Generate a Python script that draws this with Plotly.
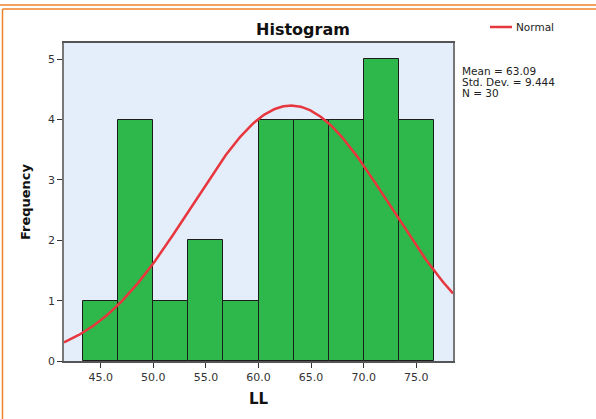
import numpy as np
import plotly.graph_objects as go

# ---- data ----
counts = [1, 4, 1, 2, 1, 4, 4, 4, 5, 4]
bin_start = 43.3
bin_width = 3.34
mean_val = 63.09
std_val = 9.444
n_val = 30
x_ticks = [45.0, 50.0, 55.0, 60.0, 65.0, 70.0, 75.0]
y_ticks = [0, 1, 2, 3, 4, 5]

centers = [bin_start + bin_width * (i + 0.5) for i in range(len(counts))]

x_range = [41.5, 78.5]
xs = np.linspace(x_range[0], x_range[1], 300)
ys = n_val * bin_width * np.exp(-0.5 * ((xs - mean_val) / std_val) ** 2) / (std_val * np.sqrt(2 * np.pi))

W, H = 596, 419
L, R, T, B = 64, 453, 43, 361

def px(x):
    return (x - L) / (R - L)

def py(y):
    return (B - y) / (B - T)

fig = go.Figure()
fig.add_trace(go.Bar(
    x=centers, y=counts, width=bin_width,
    marker=dict(color="#2eb84b", line=dict(color="#1c1c1c", width=1)),
    showlegend=False, hoverinfo="skip"))
fig.add_trace(go.Scatter(
    x=xs, y=ys, mode="lines",
    line=dict(color="#e8363e", width=2.5),
    showlegend=False, hoverinfo="skip"))

font_family = "DejaVu Sans, Liberation Sans, Arial, sans-serif"

fig.update_layout(
    width=W, height=H,
    margin=dict(l=L, r=W - R, t=T, b=H - B, pad=0),
    paper_bgcolor="white",
    plot_bgcolor="#e3eefa",
    font=dict(family=font_family, color="#222"),
    bargap=0,
    xaxis=dict(
        range=x_range, tickvals=x_ticks,
        ticktext=[f"{v:.1f}" for v in x_ticks],
        ticks="outside", ticklen=5, tickcolor="#333",
        tickfont=dict(size=11, color="#333"),
        showgrid=False, zeroline=False,
        showline=True, linecolor="#555", linewidth=1.5, mirror=True,
        title=dict(text="<b>LL</b>", font=dict(size=15, color="#111"), standoff=11),
    ),
    yaxis=dict(
        range=[0, 5.27], tickvals=y_ticks,
        ticks="outside", ticklen=5, tickcolor="#333",
        tickfont=dict(size=11, color="#333"),
        showgrid=False, zeroline=False,
        showline=True, linecolor="#777", linewidth=1.5, mirror=True,
        title=dict(text="<b>Frequency</b>", font=dict(size=13, color="#111"), standoff=14),
    ),
)

# title
fig.add_annotation(text="<b>Histogram</b>", xref="paper", yref="paper",
                   x=px(303), y=py(30), showarrow=False,
                   font=dict(size=16, color="#111"), xanchor="center", yanchor="middle")

# legend (manual)
fig.add_shape(type="line", xref="paper", yref="paper",
              x0=px(490), x1=px(512), y0=py(27), y1=py(27),
              line=dict(color="#e8363e", width=2.5))
fig.add_annotation(text="Normal", xref="paper", yref="paper",
                   x=px(514), y=py(27), showarrow=False,
                   font=dict(size=10.5, color="#222"), xanchor="left", yanchor="middle")

# stats
stats = [f"Mean = {mean_val:.2f}", f"Std. Dev. = {std_val:.3f}", f"N = {n_val}"]
for i, s in enumerate(stats):
    fig.add_annotation(text=s, xref="paper", yref="paper",
                       x=px(460), y=py(71 + 10.8 * i), showarrow=False,
                       font=dict(size=10.5, color="#222"), xanchor="left", yanchor="middle")

# orange frame
orange = "#f0822a"
fig.add_shape(type="line", xref="paper", yref="paper",
              x0=px(0), x1=px(W), y0=py(5), y1=py(5),
              line=dict(color=orange, width=1.5))
fig.add_shape(type="line", xref="paper", yref="paper",
              x0=px(2.5), x1=px(W), y0=py(9), y1=py(9),
              line=dict(color=orange, width=1.5))
fig.add_shape(type="line", xref="paper", yref="paper",
              x0=px(2.5), x1=px(2.5), y0=py(9), y1=py(H + 5),
              line=dict(color=orange, width=1.5))

fig.write_html("out.html", config={"displayModeBar": False},
               post_script="document.body.style.margin='0';document.body.style.overflow='hidden';")
